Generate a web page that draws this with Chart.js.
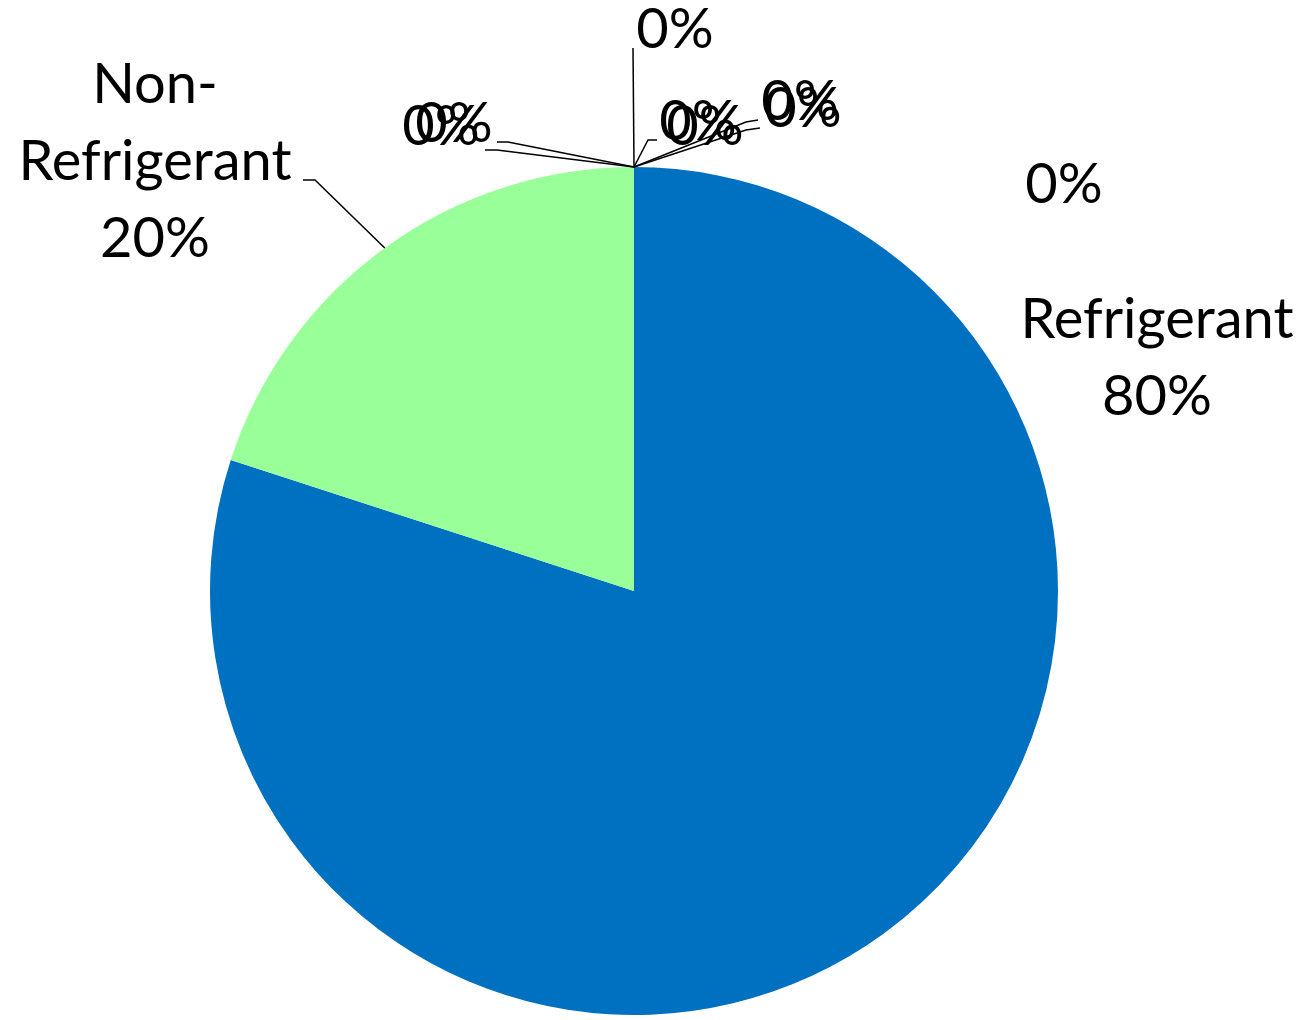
<!DOCTYPE html>
<html>
<head>
<meta charset="utf-8">
<script src="https://cdn.jsdelivr.net/npm/chart.js@4"></script>
<style>
  html, body { margin: 0; padding: 0; background: #fff; }
  #wrap { width: 1312px; height: 1020px; position: relative; }
</style>
</head>
<body>
<div id="wrap"><canvas id="pie"></canvas></div>
<script>
// categories and values, clockwise from 12 o'clock
const categories = ['Refrigerant', 'Non-Refrigerant', '', '', '', '', '', '', '', ''];
const shares = [80, 20, 0, 0, 0, 0, 0, 0, 0, 0];
const sliceColors = ['#0070C0', '#99FF99', '#999', '#999', '#999', '#999', '#999', '#999', '#999', '#999'];

// where each data label sits (text centre) and the bend points of its leader line
const labelSpots = [
  { x: 1157, y: 320, path: null },
  { x: 155, y: 85, path: [[315, 180], [303, 180]] },
  { x: 675, y: 30, path: [[633, 48]] },
  { x: 698, y: 122, path: [[648, 140], [657, 140]] },
  { x: 800, y: 102, path: [[746, 122], [758, 120]] },
  { x: 803, y: 109, path: [[746, 130], [760, 128]] },
  { x: 1064, y: 185, path: null },
  { x: 441, y: 127, path: [[508, 142], [497, 142]] },
  { x: 454, y: 124, path: [[497, 150], [485, 150]] },
  { x: 705, y: 127, path: null }
];

const FONT = '56px Lato, "Open Sans", sans-serif';
const LINE_H = 77;

const pieLabels = {
  id: 'pieLabels',
  afterDraw(chart) {
    const ctx = chart.ctx;
    const arcs = chart.getDatasetMeta(0).data;
    const total = shares.reduce((a, b) => a + b, 0);
    ctx.save();
    ctx.font = FONT;
    ctx.fillStyle = '#000';
    ctx.strokeStyle = '#000';
    ctx.lineWidth = 1.5;
    ctx.textAlign = 'center';
    ctx.textBaseline = 'middle';
    arcs.forEach((arc, i) => {
      const spot = labelSpots[i];
      if (!spot) return;
      const p = arc.getProps(['x', 'y', 'startAngle', 'endAngle', 'outerRadius'], true);
      const mid = (p.startAngle + p.endAngle) / 2;
      const ax = p.x + Math.cos(mid) * p.outerRadius;
      const ay = p.y + Math.sin(mid) * p.outerRadius;
      if (spot.path) {
        ctx.beginPath();
        ctx.moveTo(ax, ay);
        spot.path.forEach(pt => ctx.lineTo(pt[0], pt[1]));
        ctx.stroke();
      }
      const pct = Math.round(shares[i] / total * 100) + '%';
      let lines = [pct];
      if (categories[i] === 'Non-Refrigerant') lines = ['Non-', 'Refrigerant', pct];
      else if (categories[i]) lines = [categories[i], pct];
      lines.forEach((t, k) => ctx.fillText(t, spot.x, spot.y + k * LINE_H));
    });
    ctx.restore();
  }
};

new Chart(document.getElementById('pie'), {
  type: 'pie',
  data: {
    labels: categories,
    datasets: [{
      data: shares,
      backgroundColor: sliceColors,
      borderWidth: 0
    }]
  },
  options: {
    responsive: true,
    maintainAspectRatio: false,
    animation: false,
    devicePixelRatio: 1,
    layout: { padding: { left: 210, right: 254, top: 167, bottom: 5 } },
    plugins: {
      legend: { display: false },
      tooltip: { enabled: false }
    }
  },
  plugins: [pieLabels]
});
</script>
</body>
</html>
